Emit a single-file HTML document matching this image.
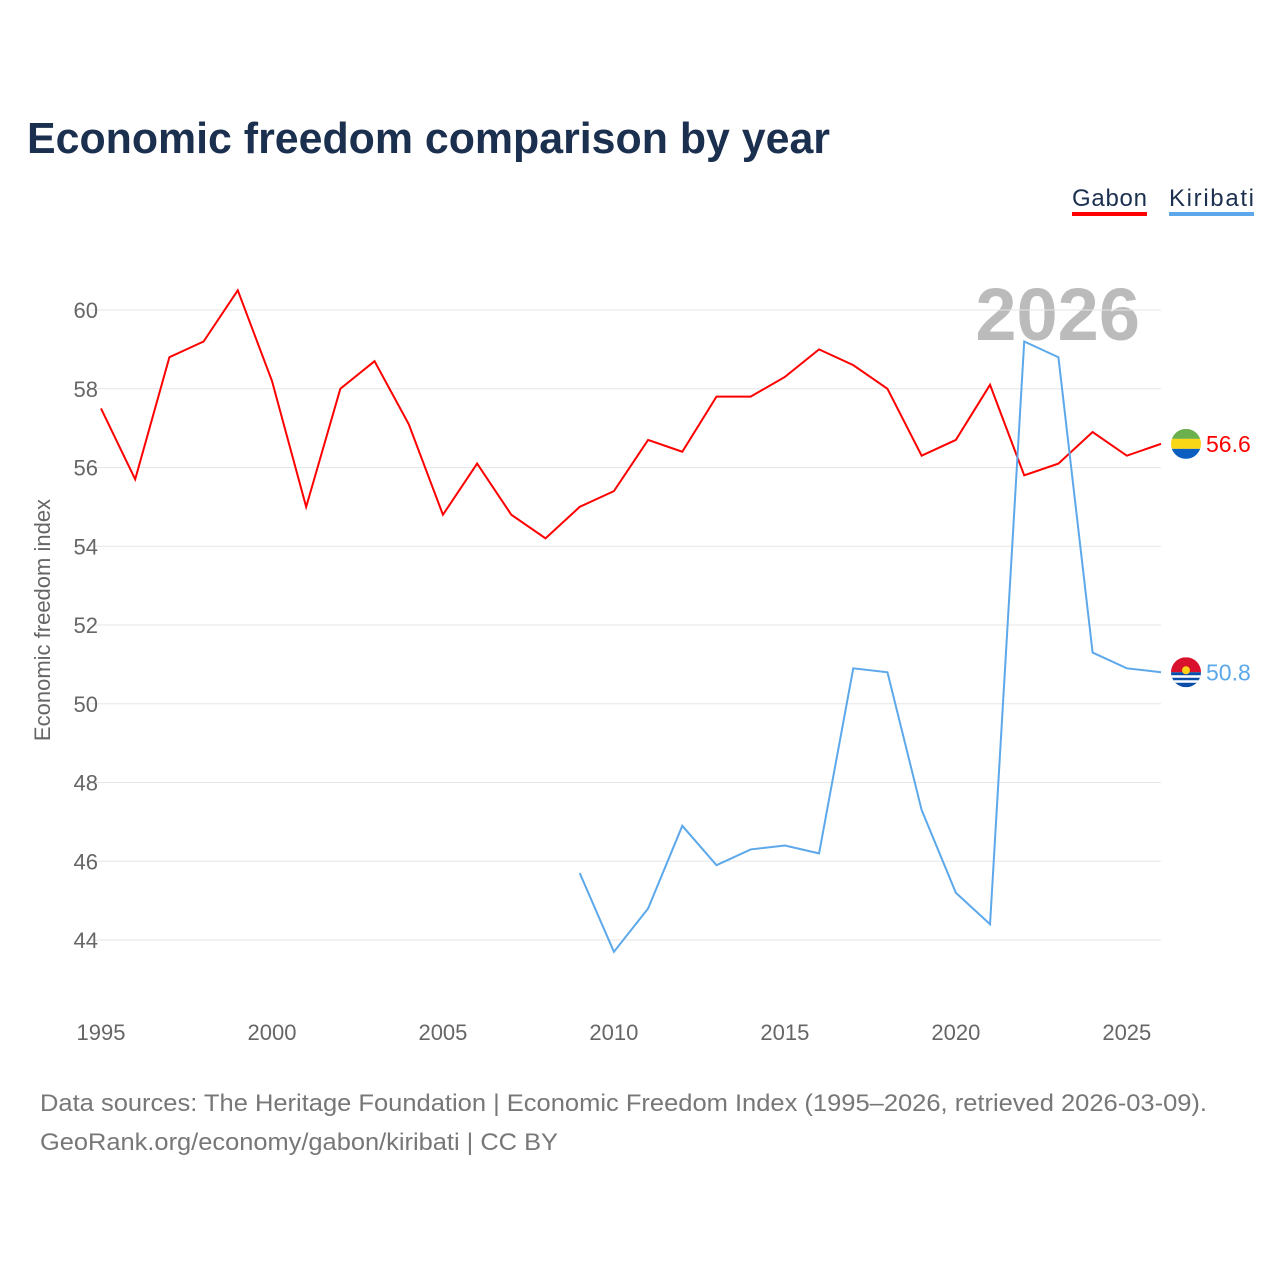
<!DOCTYPE html>
<html><head><meta charset="utf-8"><style>
body{margin:0;background:#fff;width:1280px;height:1280px;overflow:hidden;font-family:"Liberation Sans",sans-serif}
</style></head><body>
<svg id="chart" width="1280" height="1280" xmlns="http://www.w3.org/2000/svg">
<text x="27" y="153" font-size="44" font-weight="bold" fill="#1b2f4f" textLength="803" lengthAdjust="spacingAndGlyphs">Economic freedom comparison by year</text>
<g>
<text x="1072" y="206" font-size="24" fill="#1b2f4f" textLength="75">Gabon</text>
<rect x="1072" y="212" width="75" height="4" fill="#ff0000"/>
<text x="1169" y="206" font-size="24" fill="#1b2f4f" textLength="85">Kiribati</text>
<rect x="1169" y="212" width="85" height="4" fill="#5ca8ea"/>
</g>
<text x="1140" y="340" font-size="74" font-weight="bold" fill="#bbbbbb" text-anchor="end">2026</text>
<g id="grid"></g><g id="xticks"></g>
<text transform="translate(50,620) rotate(-90)" font-size="22" fill="#666" text-anchor="middle">Economic freedom index</text>
<g id="series"></g>
<text x="40" y="1111" font-size="24" fill="#777" textLength="1167" lengthAdjust="spacingAndGlyphs">Data sources: The Heritage Foundation | Economic Freedom Index (1995–2026, retrieved 2026-03-09).</text>
<text x="40" y="1150" font-size="24" fill="#777" textLength="518" lengthAdjust="spacingAndGlyphs">GeoRank.org/economy/gabon/kiribati | CC BY</text>
</svg>
<script>
const gabonYears=[1995,1996,1997,1998,1999,2000,2001,2002,2003,2004,2005,2006,2007,2008,2009,2010,2011,2012,2013,2014,2015,2016,2017,2018,2019,2020,2021,2022,2023,2024,2025,2026];
const gabonValues=[57.5,55.7,58.8,59.2,60.5,58.2,55.0,58.0,58.7,57.1,54.8,56.1,54.8,54.2,55.0,55.4,56.7,56.4,57.8,57.8,58.3,59.0,58.6,58.0,56.3,56.7,58.1,55.8,56.1,56.9,56.3,56.6];
const kiribatiYears=[2009,2010,2011,2012,2013,2014,2015,2016,2017,2018,2019,2020,2021,2022,2023,2024,2025,2026];
const kiribatiValues=[45.7,43.7,44.8,46.9,45.9,46.3,46.4,46.2,50.9,50.8,47.3,45.2,44.4,59.2,58.8,51.3,50.9,50.8];
const yTicks=[44,46,48,50,52,54,56,58,60];
const xTicks=[1995,2000,2005,2010,2015,2020,2025];
const NS="http://www.w3.org/2000/svg";
const X=y=>101+(y-1995)*(1161-101)/31;
const Y=v=>310+(60-v)*(940-310)/16;
function mk(t,a,p){const e=document.createElementNS(NS,t);for(const k in a)e.setAttribute(k,a[k]);p.appendChild(e);return e;}
const grid=document.getElementById('grid');
yTicks.forEach(v=>{
 const l=mk('line',{x1:90,x2:1161,y1:Y(v),y2:Y(v),stroke:'#e6e6e6','stroke-width':1},grid);
 
 
 const t=mk('text',{x:98,y:Y(v)+8,'font-size':22,fill:'#666','text-anchor':'end'},grid);
 t.textContent=v;
 
 
});
const xt=document.getElementById('xticks');
xTicks.forEach(y=>{
 const t=mk('text',{x:X(y),y:1040,'font-size':22,fill:'#666','text-anchor':'middle'},xt);
 t.textContent=y;
 
 
});
const s=document.getElementById('series');
function line(years,vals,color,name){
 const p=mk('polyline',{points:years.map((y,i)=>X(y)+','+Y(vals[i])).join(' '),fill:'none',stroke:color,'stroke-width':2},s);
 
 
 const ly=years[years.length-1],lv=vals[vals.length-1];
 const g=mk('g',{},s);
 
 
 return [g,X(ly),Y(lv),lv];
}
let [g1,x1,y1,v1]=line(gabonYears,gabonValues,'#ff0000','gabon');
let c=x1+25;
const cp1=mk('clipPath',{id:'c1'},g1);mk('circle',{cx:c,cy:y1,r:15},cp1);
mk('rect',{x:c-15,y:y1-15,width:30,height:10,fill:'#6ab04c','clip-path':'url(#c1)'},g1);
mk('rect',{x:c-15,y:y1-5,width:30,height:10,fill:'#f9d616','clip-path':'url(#c1)'},g1);
mk('rect',{x:c-15,y:y1+5,width:30,height:10,fill:'#0a5fc0','clip-path':'url(#c1)'},g1);
mk('text',{x:c+20,y:y1+8,'font-size':23,fill:'#ff0000'},g1).textContent=v1.toFixed(1);
let [g2,x2,y2,v2]=line(kiribatiYears,kiribatiValues,'#5ca8ea','kiribati');
c=x2+25;
const cp=mk('clipPath',{id:'c2'},g2);mk('circle',{cx:c,cy:y2,r:15},cp);
mk('rect',{x:c-15,y:y2-15,width:30,height:15,fill:'#d9112c','clip-path':'url(#c2)'},g2);
mk('rect',{x:c-15,y:y2,width:30,height:15,fill:'#0a4ea8','clip-path':'url(#c2)'},g2);
[3,8].forEach(d=>mk('rect',{x:c-15,y:y2+d,width:30,height:2.5,fill:'#fff','clip-path':'url(#c2)'},g2));
mk('circle',{cx:c,cy:y2-2,r:4,fill:'#fcd116'},g2);
mk('text',{x:c+20,y:y2+8,'font-size':23,fill:'#5ca8ea'},g2).textContent=v2.toFixed(1);
</script>
</body></html>
